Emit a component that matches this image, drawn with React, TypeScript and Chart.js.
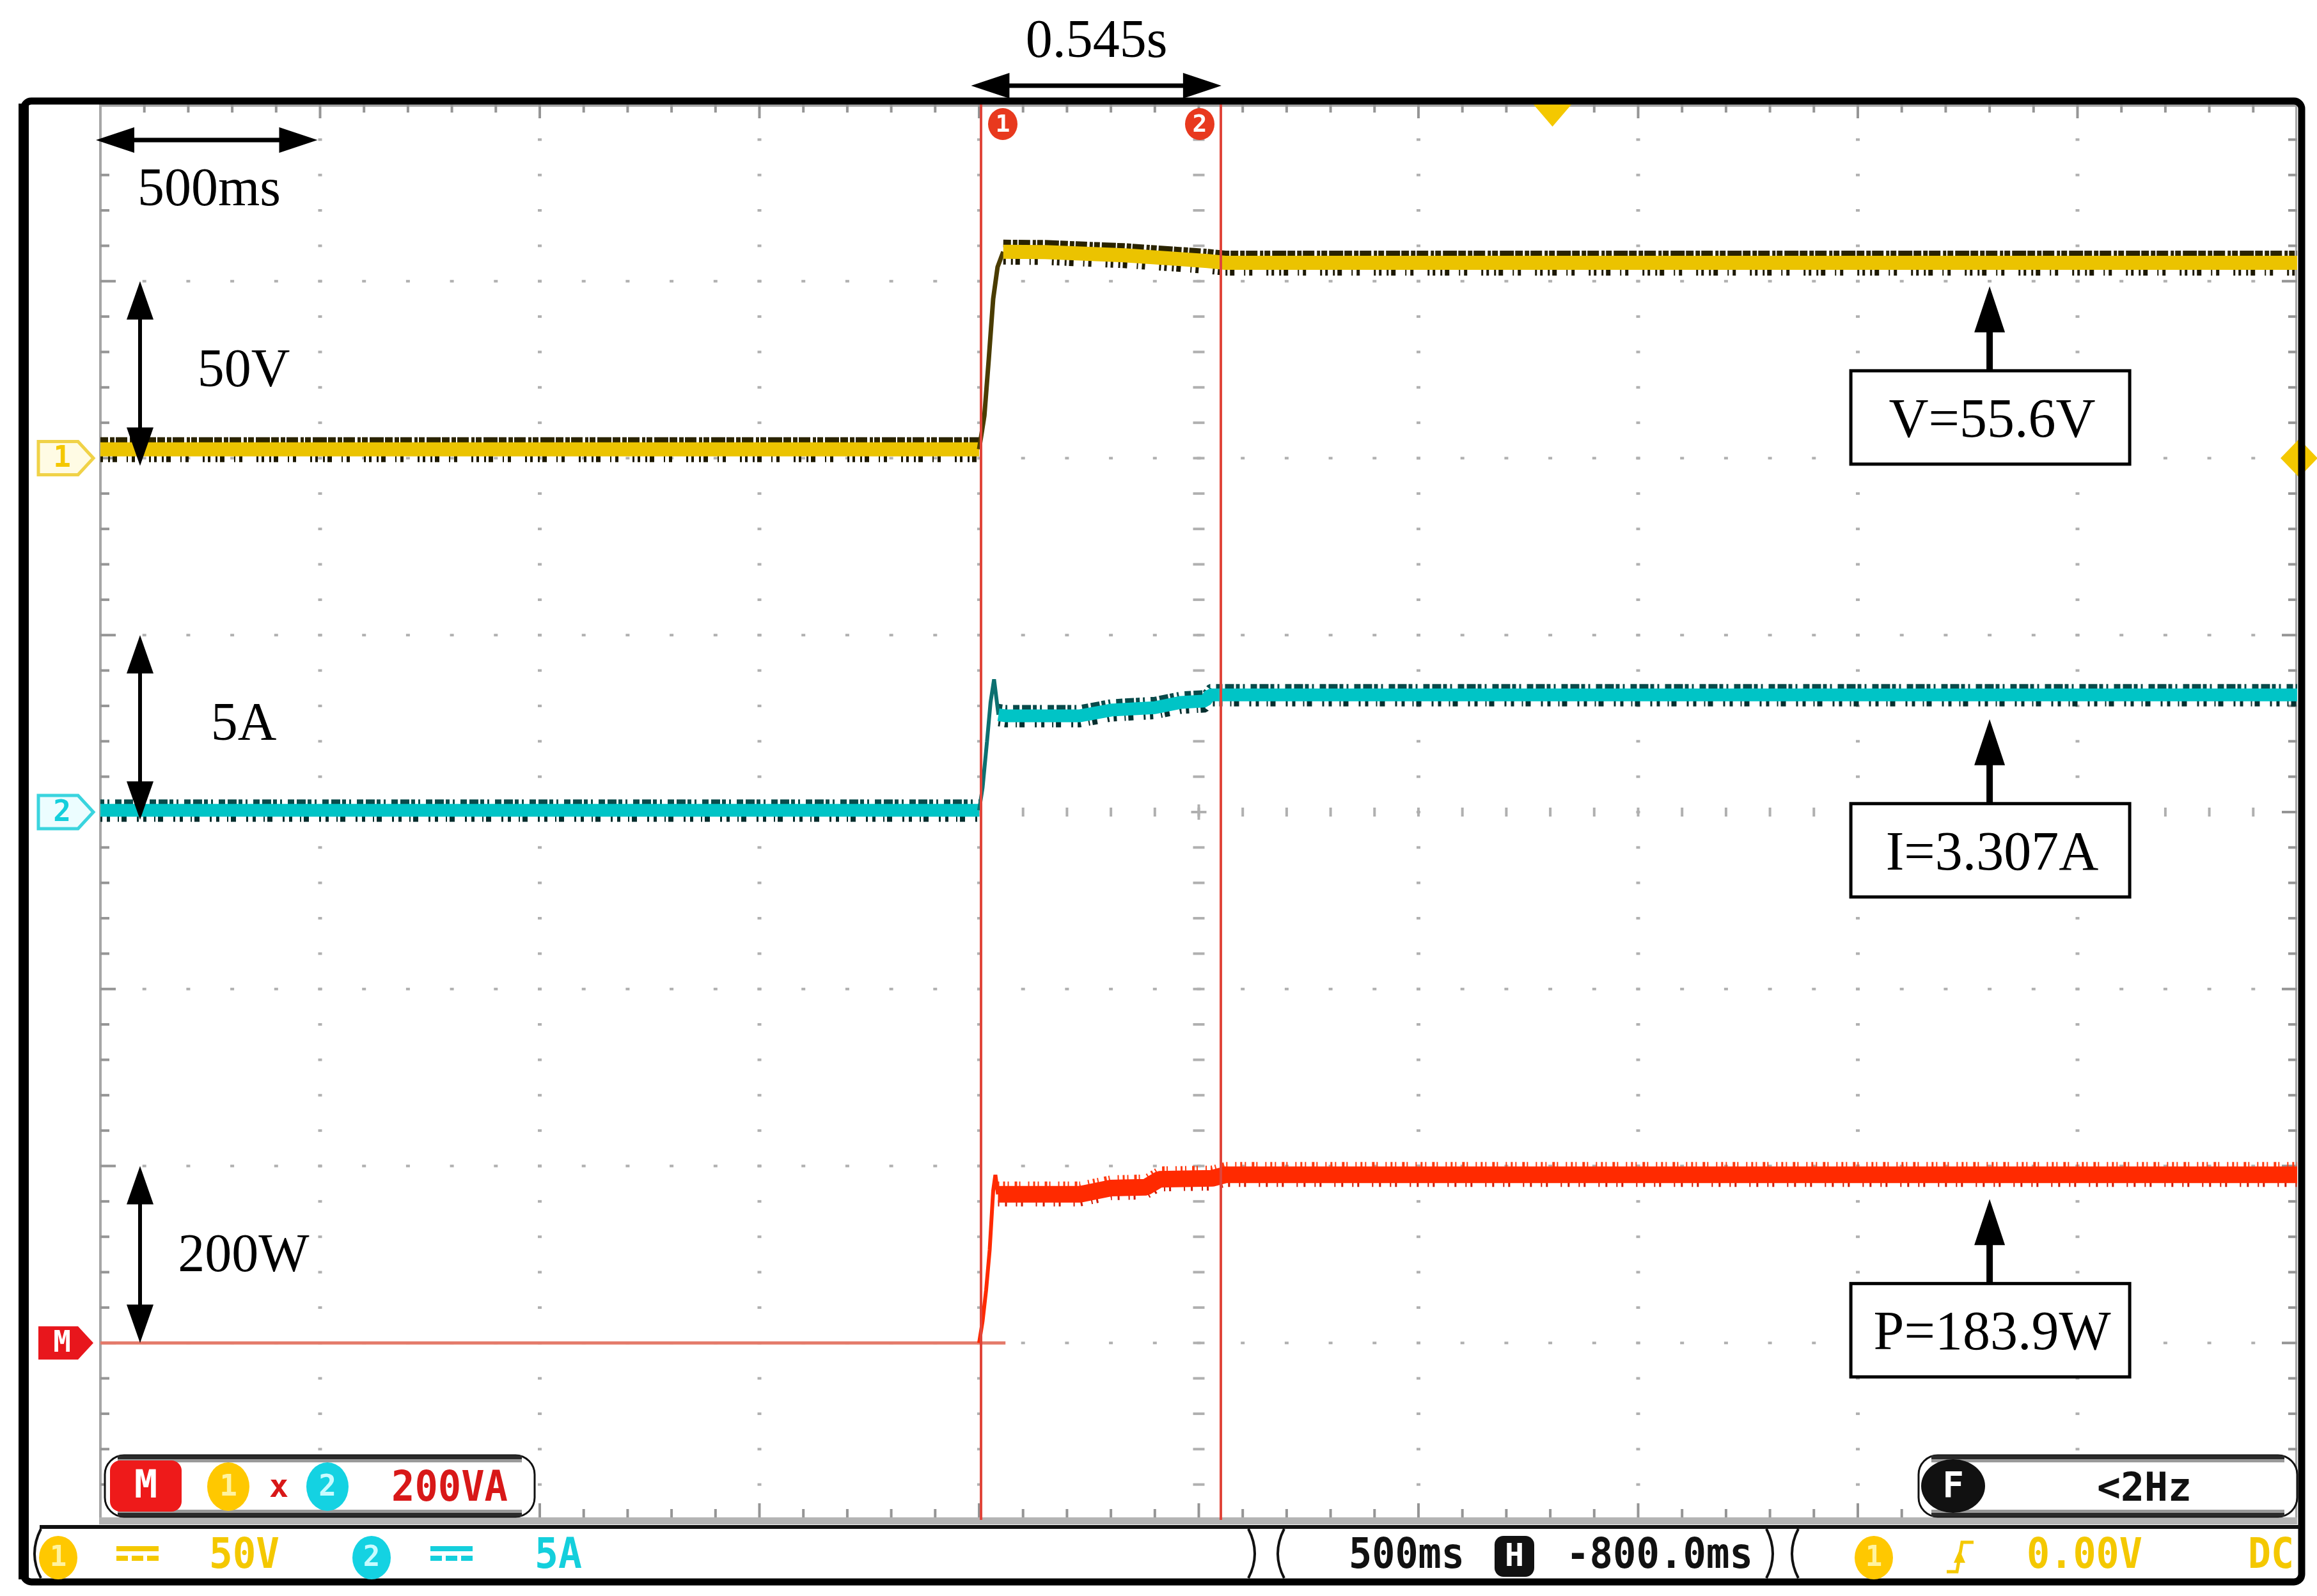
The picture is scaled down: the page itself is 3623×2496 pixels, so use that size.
import React, { useEffect, useRef } from "react";
import { Chart, registerables } from "chart.js";

Chart.register(...registerables);

const CANVAS_W = 3623;
const CANVAS_H = 2496;

// graticule rectangle inside the screenshot (px)
const GRID_LEFT = 157;
const GRID_TOP = 163;
const GRID_RIGHT = 3592;
const GRID_BOTTOM = 2377;

// horizontal: 500 ms/div, 10 div (time in seconds)
const TIME_MIN = 0;
const TIME_MAX = 5;
const H_DIVS = 10;
const V_DIVS = 8;

// vertical: units per division and ground marker (div from bottom)
const VOLTS_PER_DIV = 50;
const VOLT_GROUND_DIV = 6;
const AMPS_PER_DIV = 5;
const AMP_GROUND_DIV = 4;
const WATTS_PER_DIV = 200;
const WATT_GROUND_DIV = 1;

// channel 1 - voltage (V)
const voltageTime = [0, 2.0, 2.012, 2.022, 2.032, 2.042, 2.055, 2.15, 2.33, 2.45, 2.52, 2.56, 5.0];
const voltageValues = [2.5, 2.5, 12, 28, 45, 54, 58.3, 58.2, 57.3, 56.3, 55.7, 55.2, 55.2];

// channel 2 - current (A)
const currentTime = [0, 2.0, 2.008, 2.018, 2.026, 2.034, 2.044, 2.06, 2.23, 2.3, 2.4, 2.46, 2.515, 2.525, 5.0];
const currentValues = [0.05, 0.05, 0.7, 2.0, 3.1, 3.75, 2.75, 2.72, 2.72, 2.88, 2.95, 3.1, 3.14, 3.31, 3.31];

// math channel M = 1 x 2 - power (W)
const powerTime = [2.0, 2.008, 2.016, 2.024, 2.032, 2.037, 2.043, 2.23, 2.3, 2.38, 2.41, 2.53, 2.56, 5.0];
const powerValues = [0, 25, 60, 105, 172, 190, 168, 168, 175, 176, 185, 186, 190, 190];
const powerBaseTime = [0, 2.06];
const powerBaseValues = [0, 0];

// cursors
const cursorTimes = [2.005, 2.55];
const cursorNames = ["1", "2"];
const cursorDeltaLabel = "0.545s";

// annotations
const timeScaleLabel = "500ms";
const channelScaleLabels = ["50V", "5A", "200W"];
const readoutLabels = ["V=55.6V", "I=3.307A", "P=183.9W"];
const readoutLevels = [55.4, 3.31, 190];
const readoutTime = 4.3;

// trigger
const triggerTime = 3.305;
const triggerLevel = 0;

// status texts
const mathScaleText = "200VA";
const freqText = "<2Hz";
const ch1ScaleText = "50V";
const ch2ScaleText = "5A";
const timebaseText = "500ms";
const hPosText = "-800.0ms";
const trigLevelText = "0.00V";
const couplingText = "DC";

const YELLOW = "#f4c800";
const CYAN = "#14cfdc";
const RED = "#e8161c";
const CLEAR = "rgba(0,0,0,0)";
const SERIF = '"Liberation Serif", "Times New Roman", serif';
const MONO = '"DejaVu Sans Mono", monospace';

const steep = (c: any) => Math.abs(c.p1.y - c.p0.y) > 2.5 * Math.abs(c.p1.x - c.p0.x);

function trace(times: number[], values: number[], axis: string, color: string, width: number,
  steepColor: string, steepWidth: number, order: number, dash: number[] = [], shiftY = 0) {
  return {
    data: times.map((t, i) => ({ x: t, y: values[i] })),
    yAxisID: axis,
    borderColor: color,
    borderWidth: width,
    borderDash: dash,
    borderJoinStyle: "bevel",
    borderCapStyle: "butt",
    pointRadius: 0,
    fill: false,
    tension: 0,
    order,
    shiftY,
    segment: {
      borderWidth: (c: any) => (steep(c) ? steepWidth : undefined),
      borderColor: (c: any) => (steep(c) ? steepColor : undefined),
      borderDash: (c: any) => (steep(c) ? [] : undefined),
    },
  };
}

function tri(ctx: CanvasRenderingContext2D, a: number[], b: number[], c: number[]) {
  ctx.beginPath();
  ctx.moveTo(a[0], a[1]);
  ctx.lineTo(b[0], b[1]);
  ctx.lineTo(c[0], c[1]);
  ctx.closePath();
  ctx.fill();
}

function hDoubleArrow(ctx: CanvasRenderingContext2D, x1: number, x2: number, y: number) {
  const head = 60, half = 20, lw = 7;
  ctx.fillStyle = "#000";
  ctx.fillRect(x1 + head - 2, y - lw / 2, x2 - x1 - 2 * head + 4, lw);
  tri(ctx, [x1, y], [x1 + head, y - half], [x1 + head, y + half]);
  tri(ctx, [x2, y], [x2 - head, y - half], [x2 - head, y + half]);
}

function vDoubleArrow(ctx: CanvasRenderingContext2D, x: number, y1: number, y2: number) {
  const head = 60, half = 21, lw = 6;
  ctx.fillStyle = "#000";
  ctx.fillRect(x - lw / 2, y1 + head - 2, lw, y2 - y1 - 2 * head + 4);
  tri(ctx, [x, y1], [x - half, y1 + head], [x + half, y1 + head]);
  tri(ctx, [x, y2], [x - half, y2 - head], [x + half, y2 - head]);
}

function serifText(ctx: CanvasRenderingContext2D, text: string, cx: number, baseline: number, size = 84) {
  ctx.font = `${size}px ${SERIF}`;
  ctx.fillStyle = "#000";
  ctx.textAlign = "center";
  ctx.textBaseline = "alphabetic";
  ctx.fillText(text, cx, baseline);
}

function mono(ctx: CanvasRenderingContext2D, text: string, x: number, baseline: number, width: number, color: string, size = 66) {
  ctx.font = `bold ${size}px ${MONO}`;
  ctx.fillStyle = color;
  ctx.textAlign = "left";
  ctx.textBaseline = "alphabetic";
  ctx.fillText(text, x, baseline, width);
}

function badge(ctx: CanvasRenderingContext2D, cx: number, cy: number, rx: number, ry: number, fill: string, text: string, textColor: string, size: number) {
  ctx.beginPath();
  ctx.ellipse(cx, cy, rx, ry, 0, 0, Math.PI * 2);
  ctx.fillStyle = fill;
  ctx.fill();
  ctx.fillStyle = textColor;
  ctx.font = `bold ${size}px ${MONO}`;
  ctx.textAlign = "center";
  ctx.textBaseline = "middle";
  ctx.fillText(text, cx, cy + 2);
}

function drawTag(ctx: CanvasRenderingContext2D, cy: number, stroke: string, fill: string, textColor: string, text: string, solid: boolean) {
  const x0 = 60, x1 = 122, x2 = 146, h = 26;
  ctx.beginPath();
  ctx.moveTo(x0, cy - h);
  ctx.lineTo(x1, cy - h);
  ctx.lineTo(x2, cy);
  ctx.lineTo(x1, cy + h);
  ctx.lineTo(x0, cy + h);
  ctx.closePath();
  ctx.fillStyle = fill;
  ctx.fill();
  if (!solid) {
    ctx.lineWidth = 5;
    ctx.strokeStyle = stroke;
    ctx.stroke();
  }
  ctx.fillStyle = textColor;
  ctx.font = `bold 46px ${MONO}`;
  ctx.textAlign = "center";
  ctx.textBaseline = "middle";
  ctx.fillText(text, (x0 + x1) / 2 + 6, cy + 2);
}

function scopeBox(ctx: CanvasRenderingContext2D, x: number, y: number, w: number, h: number) {
  ctx.beginPath();
  ctx.roundRect(x, y, w, h, 30);
  ctx.fillStyle = "#fff";
  ctx.fill();
  ctx.lineWidth = 3;
  ctx.strokeStyle = "#111";
  ctx.stroke();
  ctx.fillStyle = "#2a2a2a";
  ctx.fillRect(x + 20, y, w - 40, 6);
  ctx.fillRect(x + 20, y + h - 6, w - 40, 6);
  ctx.fillStyle = "#9a9a9a";
  ctx.fillRect(x + 20, y + 6, w - 40, 5);
  ctx.fillRect(x + 20, y + h - 11, w - 40, 5);
}

function dcSymbol(ctx: CanvasRenderingContext2D, x: number, y: number, w: number, color: string) {
  ctx.fillStyle = color;
  ctx.fillRect(x, y, w, 8);
  const d = (w - 12) / 3;
  for (let k = 0; k < 3; k++) ctx.fillRect(x + k * (d + 6), y + 15, d, 8);
}

function bracket(ctx: CanvasRenderingContext2D, x: number, dir: number) {
  ctx.beginPath();
  ctx.moveTo(x, 2391);
  ctx.quadraticCurveTo(x + dir * 20, 2430, x, 2468);
  ctx.lineWidth = 4;
  ctx.strokeStyle = "#111";
  ctx.stroke();
}

const gridPlugin = {
  id: "scopeGrid",
  beforeDraw(chart: any) {
    const ctx = chart.ctx;
    ctx.save();
    ctx.fillStyle = "#fff";
    ctx.fillRect(0, 0, chart.width, chart.height);
    ctx.restore();
  },
  beforeDatasetDraw(chart: any, args: any) {
    const ds: any = chart.data.datasets[args.index];
    chart.ctx.save();
    if (ds && ds.shiftY) chart.ctx.translate(0, ds.shiftY);
  },
  afterDatasetDraw(chart: any) {
    chart.ctx.restore();
  },
  beforeDatasetsDraw(chart: any) {
    const ctx: CanvasRenderingContext2D = chart.ctx;
    const { left, top, right, bottom } = chart.chartArea;
    const dx = (right - left) / H_DIVS;
    const dy = (bottom - top) / V_DIVS;
    const mx = dx / 5;
    const my = dy / 5;
    ctx.save();
    ctx.fillStyle = "#b0b0b0";
    for (let i = 1; i < H_DIVS; i++) {
      const x = left + i * dx;
      for (let j = 1; j < V_DIVS * 5; j++) {
        const y = top + j * my;
        if (i === H_DIVS / 2) ctx.fillRect(x - 9, y - 2, 18, 4);
        else ctx.fillRect(x - 3, y - 2, 6, 4);
      }
    }
    for (let j = 1; j < V_DIVS; j++) {
      const y = top + j * dy;
      for (let i = 1; i < H_DIVS * 5; i++) {
        const x = left + i * mx;
        if (j === V_DIVS / 2) ctx.fillRect(x - 2, y - 7, 4, 14);
        else ctx.fillRect(x - 3, y - 2, 6, 4);
      }
    }
    const cx = left + (H_DIVS / 2) * dx;
    const cy = top + (V_DIVS / 2) * dy;
    ctx.fillRect(cx - 12, cy - 2, 24, 4);
    ctx.fillRect(cx - 2, cy - 12, 4, 24);

    // edges
    ctx.fillStyle = "#a6a6a6";
    ctx.fillRect(left - 2, top, 4, bottom - top);
    ctx.fillRect(left, top, right - left, 4);
    ctx.fillRect(right - 3, top, 3, bottom - top);
    ctx.fillStyle = "#b4b4b4";
    ctx.fillRect(left - 2, bottom - 4, right - left + 2, 11);
    ctx.fillStyle = "#959595";
    for (let j = 1; j < V_DIVS * 5; j++) {
      const y = top + j * my;
      const len = j % 5 === 0 ? 24 : 14;
      ctx.fillRect(left, y - 2, len, 4);
      ctx.fillRect(right - len, y - 2, len, 4);
    }
    for (let i = 1; i < H_DIVS * 5; i++) {
      const x = left + i * mx;
      const len = i % 5 === 0 ? 22 : 13;
      ctx.fillRect(x - 2, top, 4, len);
      ctx.fillRect(x - 2, bottom - 4 - len, 4, len);
    }
    ctx.restore();
  },
  afterDatasetsDraw(chart: any) {
    const ctx: CanvasRenderingContext2D = chart.ctx;
    const { top, bottom } = chart.chartArea;
    const xs = chart.scales.x;
    ctx.save();
    ctx.strokeStyle = "#e0453a";
    ctx.lineWidth = 4;
    const px = cursorTimes.map((t) => Math.round(xs.getPixelForValue(t)));
    px.forEach((x) => {
      ctx.beginPath();
      ctx.moveTo(x, top);
      ctx.lineTo(x, bottom);
      ctx.stroke();
    });
    badge(ctx, px[0] + 34, top + 31, 23, 25, "#e8391e", cursorNames[0], "#fff", 38);
    badge(ctx, px[1] - 33, top + 31, 23, 25, "#e8391e", cursorNames[1], "#fff", 38);
    ctx.restore();
  },
  afterDraw(chart: any) {
    const ctx: CanvasRenderingContext2D = chart.ctx;
    const { left, top, right, bottom } = chart.chartArea;
    const xs = chart.scales.x;
    const yV = chart.scales.yV;
    const yI = chart.scales.yI;
    const yP = chart.scales.yP;
    ctx.save();

    // channel ground tags
    drawTag(ctx, yV.getPixelForValue(0), "#f0d248", "#fffbe4", YELLOW, "1", false);
    drawTag(ctx, yI.getPixelForValue(0), "#3ad4de", "#ecfdff", CYAN, "2", false);
    drawTag(ctx, yP.getPixelForValue(0), RED, RED, "#fff", "M", true);

    // trigger level (right) and position (top)
    ctx.fillStyle = YELLOW;
    const ty = yV.getPixelForValue(triggerLevel);
    ctx.beginPath();
    ctx.moveTo(right - 26, ty);
    ctx.lineTo(right + 3, ty - 30);
    ctx.lineTo(right + 32, ty);
    ctx.lineTo(right + 3, ty + 30);
    ctx.closePath();
    ctx.fill();
    const tx = xs.getPixelForValue(triggerTime);
    tri(ctx, [tx - 30, top], [tx + 30, top], [tx, top + 35]);

    // outer frame
    ctx.strokeStyle = "#000";
    ctx.lineWidth = 11;
    ctx.beginPath();
    ctx.roundRect(37, 158, 3562, 2316, 12);
    ctx.stroke();
    ctx.fillStyle = "#000";
    ctx.fillRect(29, 162, 16, 2308);

    // cursor delta annotation
    const c1 = xs.getPixelForValue(cursorTimes[0]);
    const c2 = xs.getPixelForValue(cursorTimes[1]);
    hDoubleArrow(ctx, c1 - 16, c2 + 1, top - 29);
    serifText(ctx, cursorDeltaLabel, (c1 + c2) / 2 - 7, top - 74);

    // time scale annotation
    hDoubleArrow(ctx, left - 7, xs.getPixelForValue(TIME_MIN + 0.5) - 4, top + 56);
    serifText(ctx, timeScaleLabel, left + 170, top + 158);

    // channel scale annotations
    const scales = [yV, yI, yP];
    const perDiv = [VOLTS_PER_DIV, AMPS_PER_DIV, WATTS_PER_DIV];
    scales.forEach((sc, k) => {
      const y1 = sc.getPixelForValue(perDiv[k]);
      const y2 = sc.getPixelForValue(0) + (k === 2 ? 0 : 12);
      vDoubleArrow(ctx, left + 62, y1, y2);
      serifText(ctx, channelScaleLabels[k], left + 224, y1 + 164);
    });

    // readouts
    readoutLabels.forEach((label, k) => {
      const ax = xs.getPixelForValue(readoutTime);
      const tip = scales[k].getPixelForValue(readoutLevels[k]) + 38;
      ctx.fillStyle = "#000";
      tri(ctx, [ax, tip], [ax - 24, tip + 72], [ax + 24, tip + 72]);
      ctx.fillRect(ax - 5, tip + 70, 10, 64);
      const bx = ax - 217, by = tip + 132, bw = 436, bh = 146;
      ctx.fillStyle = "#fff";
      ctx.fillRect(bx, by, bw, bh);
      ctx.lineWidth = 5;
      ctx.strokeStyle = "#000";
      ctx.strokeRect(bx, by, bw, bh);
      serifText(ctx, label, ax + 4, by + 103, 86);
    });

    // math info box
    const boxY = bottom - 101;
    scopeBox(ctx, left + 7, boxY, 672, 96);
    ctx.beginPath();
    ctx.roundRect(left + 15, boxY + 8, 112, 80, 16);
    ctx.fillStyle = "#ee1a1a";
    ctx.fill();
    ctx.fillStyle = "#fff";
    ctx.font = `bold 60px ${MONO}`;
    ctx.textAlign = "center";
    ctx.textBaseline = "middle";
    ctx.fillText("M", left + 71, boxY + 50);
    badge(ctx, left + 200, boxY + 49, 33, 38, "#ffc800", "1", "#fff3a0", 46);
    ctx.fillStyle = "#d81818";
    ctx.font = `bold 50px ${MONO}`;
    ctx.fillText("x", left + 279, boxY + 52);
    badge(ctx, left + 355, boxY + 49, 33, 38, "#14d2e2", "2", "#c8fbff", 46);
    mono(ctx, mathScaleText, left + 455, boxY + 71, 182, "#d81818");

    // trigger frequency box
    scopeBox(ctx, right - 592, boxY, 592, 96);
    badge(ctx, right - 538, boxY + 48, 50, 42, "#111", "F", "#fff", 56);
    mono(ctx, freqText, right - 313, boxY + 71, 148, "#111", 62);

    // status row
    ctx.fillStyle = "#111";
    ctx.fillRect(62, 2385, 3534, 6);
    bracket(ctx, 64, -1);
    bracket(ctx, 1952, 1);
    bracket(ctx, 2008, -1);
    bracket(ctx, 2762, 1);
    bracket(ctx, 2812, -1);

    badge(ctx, 91, 2436, 30, 34, "#ffc800", "1", "#fff3a0", 44);
    dcSymbol(ctx, 182, 2418, 66, YELLOW);
    mono(ctx, ch1ScaleText, 327, 2452, 110, YELLOW);
    badge(ctx, 581, 2436, 30, 34, "#14d2e2", "2", "#c8fbff", 44);
    dcSymbol(ctx, 673, 2418, 66, CYAN);
    mono(ctx, ch2ScaleText, 836, 2452, 74, CYAN);

    mono(ctx, timebaseText, 2109, 2452, 181, "#111");
    ctx.beginPath();
    ctx.roundRect(2337, 2402, 62, 64, 14);
    ctx.fillStyle = "#111";
    ctx.fill();
    ctx.fillStyle = "#fff";
    ctx.font = `bold 50px ${MONO}`;
    ctx.textAlign = "center";
    ctx.textBaseline = "middle";
    ctx.fillText("H", 2368, 2436);
    mono(ctx, hPosText, 2449, 2452, 292, "#111");

    badge(ctx, 2930, 2436, 30, 34, "#ffc800", "1", "#fff3a0", 44);
    ctx.strokeStyle = YELLOW;
    ctx.lineWidth = 5;
    ctx.beginPath();
    ctx.moveTo(3044, 2458);
    ctx.lineTo(3060, 2458);
    ctx.lineTo(3068, 2412);
    ctx.lineTo(3086, 2412);
    ctx.stroke();
    ctx.fillStyle = YELLOW;
    tri(ctx, [3064, 2424], [3055, 2444], [3073, 2444]);
    mono(ctx, trigLevelText, 3169, 2452, 181, YELLOW);
    mono(ctx, couplingText, 3515, 2452, 72, YELLOW);

    ctx.restore();
  },
};

export default function App() {
  const ref = useRef<HTMLCanvasElement | null>(null);

  useEffect(() => {
    const canvas = ref.current;
    if (!canvas) return;
    const chart = new Chart(canvas, {
      type: "line",
      data: {
        datasets: [
          // voltage: dark speckled edges + yellow core
          trace(voltageTime, voltageValues, "yV", "#2a2300", 12, CLEAR, 1, 20, [12, 3, 7, 2, 18, 4, 5, 2, 9, 3, 22, 2], -13),
          trace(voltageTime, voltageValues, "yV", "#1c1800", 14, CLEAR, 1, 20, [4, 8, 3, 4, 7, 15, 2, 6, 5, 22, 3, 5], 13),
          trace(voltageTime, voltageValues, "yV", "#ebc300", 22, "#4a3c00", 7, 10),
          // current
          trace(currentTime, currentValues, "yI", "#0a4a4a", 10, CLEAR, 1, 20, [6, 5, 3, 9, 10, 4, 14, 3], -12),
          trace(currentTime, currentValues, "yI", "#062e2e", 12, CLEAR, 1, 20, [3, 7, 5, 12, 2, 4, 8, 16], 12),
          trace(currentTime, currentValues, "yI", "#00c4c6", 20, "#0d7070", 6, 10),
          // power
          trace(powerBaseTime, powerBaseValues, "yP", "#e47a6a", 5, "#e47a6a", 5, 15),
          trace(powerTime, powerValues, "yP", "#ff3a10", 10, CLEAR, 1, 20, [2, 6, 3, 4, 2, 9, 4, 3, 2, 12], -15),
          trace(powerTime, powerValues, "yP", "#d01800", 10, CLEAR, 1, 20, [2, 9, 3, 14, 2, 6, 3, 20], 14),
          trace(powerTime, powerValues, "yP", "#ff2a00", 26, "#ff2a00", 6, 10),
        ] as any,
      },
      options: {
        responsive: false,
        maintainAspectRatio: false,
        animation: false,
        devicePixelRatio: 1,
        events: [],
        layout: {
          padding: {
            left: GRID_LEFT,
            top: GRID_TOP,
            right: CANVAS_W - GRID_RIGHT,
            bottom: CANVAS_H - GRID_BOTTOM,
          },
        },
        plugins: { legend: { display: false }, tooltip: { enabled: false } },
        elements: { point: { radius: 0 }, line: { tension: 0 } },
        scales: {
          x: { type: "linear", min: TIME_MIN, max: TIME_MAX, display: false },
          yV: {
            type: "linear",
            min: -VOLT_GROUND_DIV * VOLTS_PER_DIV,
            max: (V_DIVS - VOLT_GROUND_DIV) * VOLTS_PER_DIV,
            display: false,
          },
          yI: {
            type: "linear",
            min: -AMP_GROUND_DIV * AMPS_PER_DIV,
            max: (V_DIVS - AMP_GROUND_DIV) * AMPS_PER_DIV,
            display: false,
          },
          yP: {
            type: "linear",
            min: -WATT_GROUND_DIV * WATTS_PER_DIV,
            max: (V_DIVS - WATT_GROUND_DIV) * WATTS_PER_DIV,
            display: false,
          },
        },
      } as any,
      plugins: [gridPlugin as any],
    });
    return () => chart.destroy();
  }, []);

  return (
    <div style={{ position: "fixed", left: 0, top: 0, width: CANVAS_W, height: CANVAS_H, background: "#fff" }}>
      <canvas ref={ref} width={CANVAS_W} height={CANVAS_H} style={{ width: CANVAS_W, height: CANVAS_H, display: "block" }} />
    </div>
  );
}
